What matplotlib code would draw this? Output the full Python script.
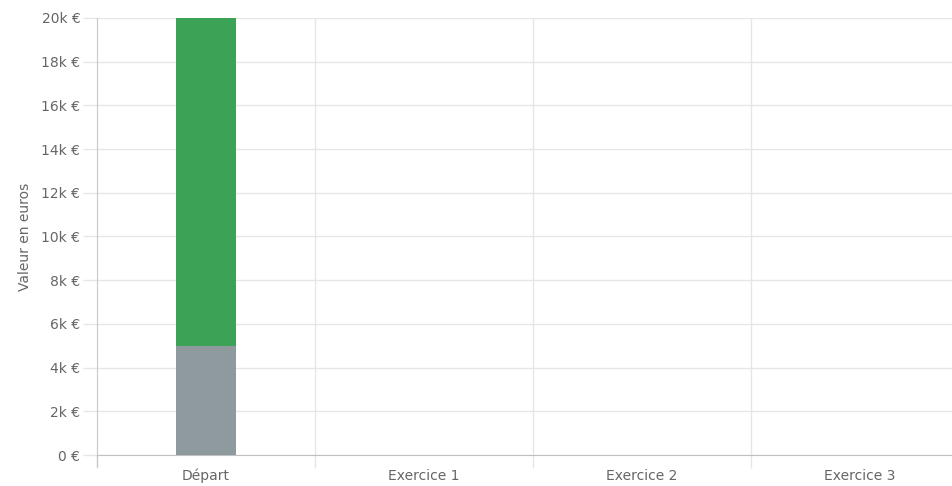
import matplotlib.pyplot as plt
from matplotlib.ticker import FuncFormatter, FixedLocator

# Data
categories = ['Départ', 'Exercice 1', 'Exercice 2', 'Exercice 3']
base_values = [5000, 0, 0, 0]
gain_values = [15000, 0, 0, 0]

GREY = '#8f9a9e'
GREEN = '#3ba256'
TEXT = '#666666'

fig = plt.figure(figsize=(9.52, 4.86), dpi=100)
# axes spans past the right edge, like the original (last category is clipped)
ax = fig.add_axes([97 / 952, (486 - 455) / 486, (969 - 97) / 952, (455 - 18) / 486])

x = range(len(categories))
ax.bar(x, base_values, width=0.275, color=GREY, zorder=3)
ax.bar(x, gain_values, width=0.275, bottom=base_values, color=GREEN, zorder=3)

ax.set_xlim(-0.5, len(categories) - 0.5)
ax.set_ylim(0, 20000)

ax.set_yticks(range(0, 20001, 2000))
ax.yaxis.set_major_formatter(FuncFormatter(lambda v, p: '0 €' if v == 0 else '%dk €' % (v / 1000)))
ax.grid(axis='y', color='#e6e6e6', linewidth=1, zorder=0)

ax.set_xticks(list(x))
ax.set_xticklabels(categories, va='center')
ax.xaxis.set_minor_locator(FixedLocator([i + 0.5 for i in x]))
ax.grid(axis='x', which='minor', color='#e6e6e6', linewidth=1, zorder=0)

ax.tick_params(axis='x', which='major', length=0, pad=15, labelsize=10, labelcolor=TEXT)
ax.tick_params(axis='x', which='minor', length=9, color='#e6e6e6', width=1)
ax.tick_params(axis='y', length=10, color='#e6e6e6', width=1, pad=2, labelsize=10, labelcolor=TEXT)

for s in ['top', 'right']:
    ax.spines[s].set_visible(False)
ax.spines['bottom'].set_color('#c0c0c0')
ax.spines['left'].set_color('#c8c8c8')
ax.spines['left'].set_bounds(0, 20000)

# left line continues below the axis like a tick
ax.plot([-0.5, -0.5], [0, -12 / 437 * 20000], color='#c8c8c8', lw=1, clip_on=False)

ax.set_ylabel('Valeur en euros', color=TEXT, fontsize=10, labelpad=7)

fig.savefig('out.png', dpi=100)
